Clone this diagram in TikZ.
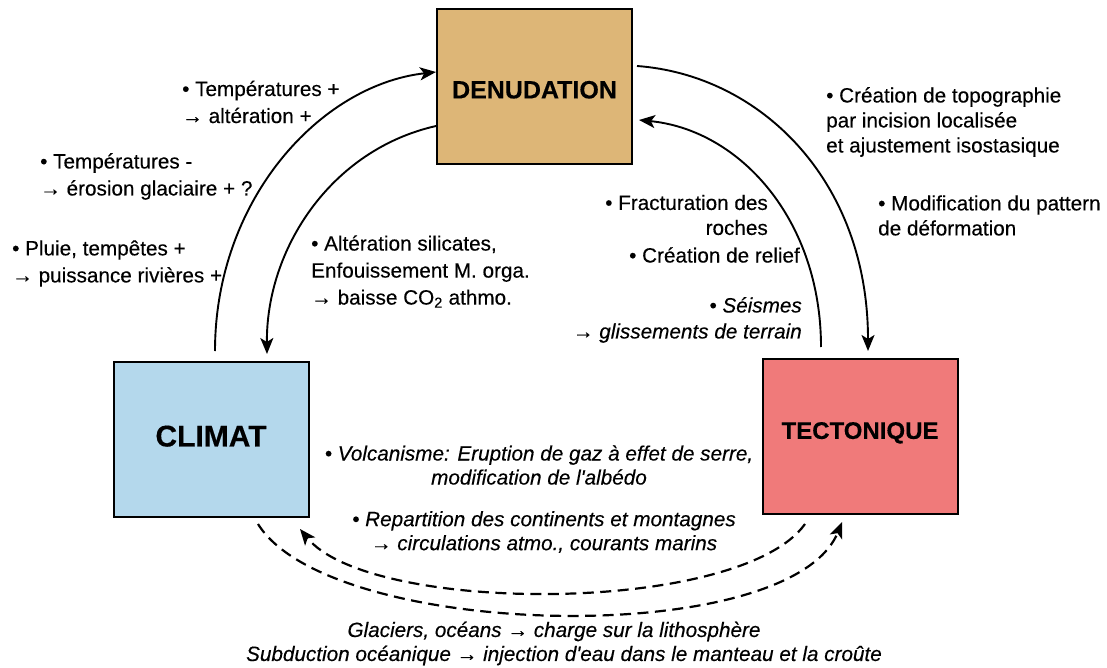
\documentclass[tikz,border=0pt]{standalone}
\usepackage{fontspec}
\setmainfont{Liberation Sans}[FakeBold=0.3]
\usetikzlibrary{arrows.meta}
\definecolor{denc}{RGB}{221,182,119}
\definecolor{clic}{RGB}{180,216,236}
\definecolor{tecc}{RGB}{240,122,122}
\begin{document}
\begin{tikzpicture}[x=1pt,y=-1pt,
  box/.style={draw=black, line width=2pt, minimum width=195pt, minimum height=155pt, inner sep=0pt},
  lbl/.style={inner sep=0pt, font=\fontsize{20.7}{27}\selectfont},
  lbls/.style={inner sep=0pt, font=\fontsize{20.7}{25}\selectfont},
  lbli/.style={inner sep=0pt, font=\fontsize{20.7}{24}\selectfont\itshape, align=center},
  conn/.style={line width=1.9pt, -{Stealth[length=16pt,width=13pt,inset=4pt]}},
  dconn/.style={conn, line width=2.2pt, dash pattern=on 11pt off 6.5pt}]
\useasboundingbox (0,0) rectangle (1107,668);
% boxes
\node[box, fill=denc, font=\fontsize{25}{30}\selectfont\bfseries, text height=24pt] (den) at (534.5,86.5) {DENUDATION};
\node[box, fill=clic, font=\fontsize{30}{36}\selectfont\bfseries, text depth=7pt] (cli) at (211,439.5) {CLIMAT};
\node[box, fill=tecc, font=\fontsize{24}{29}\selectfont\bfseries, text depth=12pt] (tec) at (860,436.5) {TECTONIQUE};
% solid connectors
\draw[conn] ([xshift=4pt,yshift=10pt]cli.north) .. controls (215,200) and (320,85) .. ([yshift=14.5pt]den.west);
\draw[conn] ([yshift=-39.5pt]den.west) .. controls (330,150) and (266,250) .. ([xshift=56pt,yshift=7pt]cli.north);
\draw[conn] ([xshift=4pt,yshift=20.5pt]den.east) .. controls (760,75) and (868,180) .. ([xshift=8pt,yshift=7pt]tec.north);
\draw[conn] ([xshift=-39pt,yshift=11pt]tec.north) .. controls (821,220) and (740,130) .. ([xshift=6pt,yshift=-33.5pt]den.east);
% dashed connectors
\draw[dconn] ([xshift=47pt,yshift=-6pt]cli.south) .. controls (330,640) and (790,650) .. ([xshift=-18pt,yshift=-7pt]tec.south);
\draw[dconn] ([xshift=-55pt,yshift=-9pt]tec.south) .. controls (740,615) and (370,615) .. ([xshift=89pt,yshift=-11pt]cli.south);
% labels
\node[lbl, anchor=west, align=left] (t1) at (182,102) {• Températures +\\→ altération +};
\node[lbl, anchor=west, align=left] (t2) at (40,176.5) {• Températures -\\→ érosion glaciaire + ?};
\node[lbl, anchor=west, align=left] (t3) at (12,263.5) {• Pluie, tempêtes +\\→ puissance rivières +};
\node[lbl, anchor=west, align=left] (t4) at (311,271.5) {• Altération silicates,\\Enfouissement M. orga.\\→ baisse CO\textsubscript{2} athmo.};
\node[lbls, anchor=west, align=left] (t5) at (826,122) {• Création de topographie\\par incision localisée\\et ajustement isostasique};
\node[lbls, anchor=west, align=left] (t6) at (878,215.5) {• Modification du pattern\\de déformation};
\node[lbls, anchor=east, align=right] (t7) at (768,215) {• Fracturation des\\roches};
\node[lbls, anchor=east] (t8) at (800,255) {• Création de relief};
\node[lbls, anchor=east, align=right, font=\fontsize{20.7}{26}\selectfont\itshape] (t9) at (802,320) {• Séismes\\→ glissements de terrain};
\node[lbli] (t10) at (539,465) {• Volcanisme: Eruption de gaz à effet de serre,\\modification de l\textquotesingle albédo};
\node[lbli] (t11) at (544,532) {• Repartition des continents et montagnes\\→ circulations atmo., courants marins};
\node[lbli] (t12) at (564,643.5) {Glaciers, océans → charge sur la lithosphère\hspace*{20pt}\\Subduction océanique → injection d\textquotesingle eau dans le manteau et la croûte};
\end{tikzpicture}
\end{document}
